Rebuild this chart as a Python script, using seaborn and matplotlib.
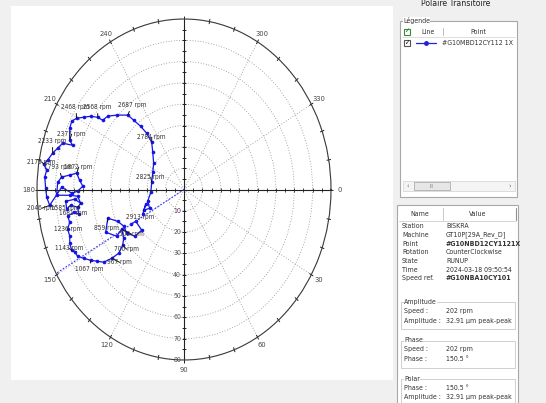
import numpy as np
import pandas as pd
import matplotlib
matplotlib.use('Agg')
import matplotlib.pyplot as plt
import matplotlib.patches as patches
import seaborn as sns
from matplotlib import font_manager

# 1X vector during run-up: amplitude (um pk-pk), phase (deg)
amplitude = [32.9, 30.2, 29.9, 34.6, 37.3, 37.0, 39.1, 43.6, 47.1, 42.7,
             38.7, 40.0, 42.4, 46.4, 50.9, 55.4, 58.2, 60.7, 63.4, 65.8,
             66.4, 67.4, 67.1, 65.9, 66.0, 64.1, 64.5, 60.9, 58.5, 58.5,
             62.1, 64.5, 64.6, 59.7, 56.6, 58.0, 62.3, 69.4, 68.8, 66.9,
             62.6, 58.9, 57.0, 55.1, 57.9, 61.1, 66.6, 73.5, 74.8, 75.3,
             76.0, 75.3, 77.3, 75.5, 73.5, 71.4, 69.5, 64.1, 66.4, 68.5,
             69.0, 67.3, 64.3, 61.3, 57.9, 54.9, 53.9, 50.6, 46.4, 42.5,
             37.9, 33.3, 28.3, 24.4, 20.6, 18.8, 17.9, 18.1, 20.5, 20.7,
             24.0, 21.9, 25.3]
phase = [150.5, 150.5, 140.3, 140.7, 146.7, 152.3, 157.6, 162.0, 154.8, 149.1,
         151.2, 145.1, 141.9, 139.9, 140.6, 142.0, 144.7, 146.8, 149.4, 151.6,
         153.7, 155.0, 157.9, 160.6, 163.6, 166.1, 168.8, 169.9, 168.6, 171.8,
         173.2, 171.8, 175.1, 175.6, 173.5, 176.9, 177.5, 177.8, 182.8, 185.0,
         186.2, 187.5, 184.4, 181.6, 179.2, 178.4, 180.9, 174.2, 177.2, 180.5,
         184.4, 186.9, 188.9, 190.5, 193.4, 195.8, 198.2, 198.9, 200.4, 204.8,
         207.7, 209.8, 211.8, 214.1, 215.8, 216.3, 219.7, 223.6, 228.8, 229.9,
         231.5, 232.4, 231.6, 225.8, 216.7, 205.5, 190.9, 175.9, 164.5, 154.8,
         156.1, 161.6, 152.7]

# speed labels and the sample they point at
label_idx = [7, 10, 12, 14, 17, 21, 24, 32, 34, 39, 41, 47, 52, 54, 58, 61, 64, 68, 72, 76, 80]
label_rpm = [859, 502, 700, 967, 1067, 1143, 1236, 1585, 1681, 1793, 1872, 2046,
             2179, 2233, 2377, 2468, 2568, 2687, 2784, 2825, 2913]
label_off = [(-1, -10), (10, -5), (4, -4), (8, -4), (-1, -9), (-3, 2), (1, 0), (0, -7),
             (-7, -10), (-3, 10), (2, 6), (-8, -3), (-2, 2), (0, 12), (2, 6), (-1, 11),
             (0, 10), (4, 10), (0, 5), (-1, 5), (-3, -7)]

cursor_phase = 150.5
theta_labels = [0, 30, 60, 90, 120, 150, 180, 210, 240, 300, 330]
r_labels = [10, 20, 30, 40, 50, 60, 70, 80]

info_names = ['Station', 'Machine', 'Point', 'Rotation', 'State', 'Time', 'Speed ref.']
info_values = ['BISKRA', 'GT10P[29A_Rev_D]', '#G10NBD12CY1121X', 'CounterClockwise',
               'RUNUP', '2024-03-18 09:50:54', '#G10NBA10CY101']

sns.set_theme(style='white')
ttf = font_manager.fontManager.ttflist
if any(f.name == 'Liberation Sans Narrow' for f in ttf):
    ui_font, ui_stretch, fs = 'Liberation Sans Narrow', 'normal', 5.8
elif any(f.name == 'DejaVu Sans' and f.stretch == 'condensed' for f in ttf):
    ui_font, ui_stretch, fs = 'DejaVu Sans', 'condensed', 5.0
else:
    ui_font, ui_stretch, fs = 'Liberation Sans', 'normal', 4.7
plt.rcParams['font.family'] = [ui_font, 'DejaVu Sans']
plt.rcParams['font.stretch'] = ui_stretch

W, H = 546, 403
fig = plt.figure(figsize=(W / 100, H / 100), dpi=100, facecolor='#f0f0f0')

# UI layer in pixel coordinates
ui = fig.add_axes([0, 0, 1, 1])
ui.set_xlim(0, W)
ui.set_ylim(H, 0)
ui.axis('off')
ui.set_zorder(0)


def box(x, y, w, h, fc='white', ec='#a8a8a8', lw=0.8):
    ui.add_patch(patches.Rectangle((x, y), w, h, fc=fc, ec=ec, lw=lw))


def txt(x, y, s, size=None, ha='left', **kw):
    ui.text(x, y, s, fontsize=size or fs, ha=ha, va='center',
            color=kw.pop('color', '#333333'), **kw)


box(11, 6, 382, 374, ec='none')
txt(456, 3, 'Polaire Transitoire', size=fs + 1.2, ha='center', color='#222222')

# legend panel
box(400, 21, 117, 176)
txt(403, 21, 'Légende', bbox=dict(fc='white', ec='none', pad=0.3))
box(404, 28.5, 6, 6, ec='#3a8a3a', lw=0.8)
txt(407, 31.5, '✓', size=5, ha='center', color='#2a7a2a', family='DejaVu Sans')
txt(421, 31.5, 'Line')
ui.plot([443, 443], [28, 35], color='#b0b0b0', lw=0.6)
txt(478, 31.5, 'Point', ha='center')
ui.plot([402, 515], [36.5, 36.5], color='#d8d8d8', lw=0.6)
box(404, 40, 6, 6, ec='#555555', lw=0.8)
txt(407, 43, '✓', size=5, ha='center', color='#111111', family='DejaVu Sans')
ui.plot([416, 436], [43, 43], color='#2020e0', lw=0.9)
ui.plot([426], [43], marker='o', ms=2.5, color='#2020e0')
txt(442, 43, '#G10MBD12CY112 1X')
box(403, 181, 112, 10, fc='#f4f4f4', ec='#d0d0d0', lw=0.5)
box(414, 182, 36, 8, fc='#e6e6e6', ec='#a0a0a0', lw=0.5)
txt(432, 186, 'III', size=3.5, ha='center', color='#666666')
txt(408, 186, '‹', size=5, ha='center', color='#666666')
txt(510, 186, '›', size=5, ha='center', color='#666666')

# info panel
box(397, 205, 121, 200)
ui.plot([399, 516], [221, 221], color='#d0d0d0', lw=0.6)
ui.plot([443, 443], [208, 220], color='#c0c0c0', lw=0.6)
ui.plot([516, 516], [208, 220], color='#909090', lw=0.8)
txt(420, 214, 'Name', ha='center')
txt(478, 214, 'Value', ha='center')
for i, (n, v) in enumerate(zip(info_names, info_values)):
    y = 226.5 + i * 8.6
    txt(402, y, n)
    txt(446, y, v, weight='bold' if v.startswith('#') else 'normal')

groups = [('Amplitude', 302, [('Speed :', '202 rpm'), ('Amplitude :', '32.91 µm peak-peak')]),
          ('Phase', 340.5, [('Speed :', '202 rpm'), ('Phase :', '150.5 °')]),
          ('Polar', 379, [('Phase :', '150.5 °'), ('Amplitude :', '32.91 µm peak-peak')])]
for title, gy, rows in groups:
    box(401, gy, 114, 27, ec='#c8c8c8', lw=0.6)
    txt(404, gy, title, bbox=dict(fc='white', ec='none', pad=0.3))
    for j, (k, v) in enumerate(rows):
        txt(404, gy + 9 + j * 9.5, k)
        txt(446, gy + 9 + j * 9.5, v)

# polar plot (stretched like the screen capture)
ax = fig.add_axes([37 / W, 1 - 360 / H, 294 / W, 341 / H], projection='polar')
ax.set_aspect('auto')
ax.set_zorder(1)
ax.set_theta_zero_location('E')
ax.set_theta_direction(-1)

df = pd.DataFrame({'theta': np.deg2rad(phase), 'amp': amplitude})
sns.lineplot(data=df, x='theta', y='amp', sort=False, estimator=None, ax=ax,
             color='#1414e6', lw=0.9, marker='o', markersize=2.6, markeredgewidth=0)

ax.set_ylim(0, 80)
ax.set_xticks(np.deg2rad(np.arange(0, 360, 30)))
ax.set_xticklabels([])
ax.set_yticks(r_labels)
ax.set_yticklabels([])
ax.set_xlabel('')
ax.set_ylabel('')
ax.grid(True, ls=(0, (1, 2.2)), color='#8c8c8c', lw=0.6)
ax.spines['polar'].set_color('#3a3a3a')
ax.spines['polar'].set_linewidth(0.8)

# axis cross with ticks
ax.vlines(np.deg2rad([0, 90, 180, 270]), 0, 80, color='#222222', lw=0.8)
rt = np.arange(5, 80, 5)
for a, m in [(0, '|'), (180, '|'), (90, '_'), (270, '_')]:
    ax.plot(np.full(len(rt), np.deg2rad(a)), rt, ls='none', marker=m, ms=3.2,
            mew=0.6, color='#222222')
ax.vlines(np.deg2rad(np.arange(0, 360, 10)), 78.8, 81.2, color='#222222', lw=0.7, clip_on=False)

# cursor at 202 rpm
ax.plot([np.deg2rad(cursor_phase)] * 2, [0, 80], color='#3030ff', ls=(0, (1.5, 1.5)), lw=0.8)

for a in theta_labels:
    ax.text(np.deg2rad(a), 84.5, str(a), ha='center', va='center', fontsize=fs + 0.4,
            color='#444444', clip_on=False)
for r in r_labels:
    ax.annotate(str(r), xy=(np.deg2rad(90), r), xytext=(-3, 0), textcoords='offset pixels',
                ha='right', va='center', fontsize=fs,
                color='#6a2a6a' if r == 10 else '#555555')

for i, rpm, off in zip(label_idx, label_rpm, label_off):
    ax.annotate(f'{rpm} rpm', xy=(np.deg2rad(phase[i]), amplitude[i]), xytext=off,
                textcoords='offset pixels', ha='center', va='center', fontsize=fs - 0.3,
                color='#333333', arrowprops=dict(arrowstyle='-', color='#111111', lw=0.7,
                                                 shrinkA=0, shrinkB=0))

fig.savefig('out.png', dpi=100, facecolor=fig.get_facecolor())
